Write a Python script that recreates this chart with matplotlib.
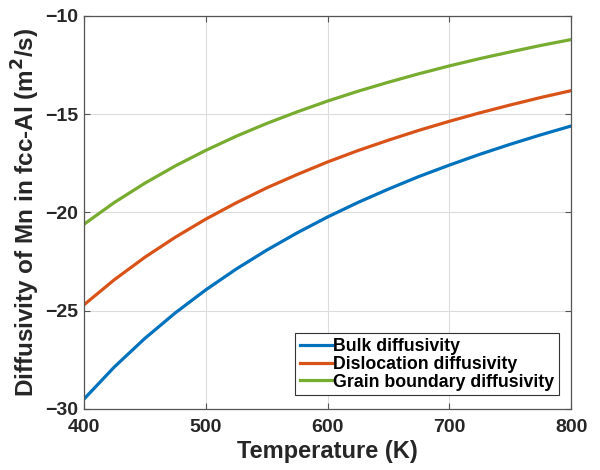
import matplotlib
matplotlib.use("Agg")
import matplotlib.pyplot as plt

temperature = [400, 425, 450, 475, 500, 525, 550, 575, 600, 625, 650, 675, 700, 725, 750, 775, 800]
bulk = [-29.50, -27.86, -26.41, -25.11, -23.94, -22.88, -21.92, -21.04, -20.23, -19.49,
        -18.81, -18.17, -17.59, -17.04, -16.53, -16.05, -15.60]
dislocation = [-24.70, -23.42, -22.28, -21.26, -20.34, -19.51, -18.75, -18.07, -17.43, -16.85,
               -16.32, -15.82, -15.36, -14.93, -14.53, -14.15, -13.80]
grain_boundary = [-20.60, -19.49, -18.51, -17.63, -16.84, -16.12, -15.47, -14.88, -14.33, -13.83,
                  -13.37, -12.94, -12.54, -12.17, -11.83, -11.50, -11.20]
series_labels = ["Bulk diffusivity", "Dislocation diffusivity", "Grain boundary diffusivity"]
x_ticks = [400, 500, 600, 700, 800]
y_ticks = [-30, -25, -20, -15, -10]

plt.rcParams['font.family'] = ['Liberation Sans', 'DejaVu Sans']
plt.rcParams['font.weight'] = 'bold'

fig = plt.figure(figsize=(6, 4.7), dpi=100)
ax = fig.add_axes([0.14, 0.13, 0.812, 0.836])

colors = ["#0072BD", "#D95319", "#77AC30"]
for ys, lab, c in zip([bulk, dislocation, grain_boundary], series_labels, colors):
    ax.plot(temperature, ys, color=c, lw=2.3, label=lab)

ax.set_xlim(400, 800)
ax.set_ylim(-30, -10)
ax.set_xticks(x_ticks)
ax.set_yticks(y_ticks)
ax.grid(True, color="#dcdcdc", lw=0.8)
ax.set_axisbelow(True)
ax.tick_params(direction='in', length=4, width=0.8, color="#555555", labelsize=14,
               top=True, right=True)
ax.tick_params(axis='x', pad=7)
ax.tick_params(axis='y', pad=4)
for lab in ax.get_xticklabels() + ax.get_yticklabels():
    lab.set_fontweight('bold')
    lab.set_color("#262626")
for s in ax.spines.values():
    s.set_color("#555555")
    s.set_linewidth(0.9)

ax.set_xlabel("Temperature (K)", fontsize=17, fontweight='bold', labelpad=3.5, color="#262626")
ax.set_ylabel("Diffusivity of Mn in fcc-Al (m$^{\\mathbf{2}}$/s)", fontsize=17.5, fontweight='bold',
              labelpad=2.5, color="#262626")

leg = ax.legend(loc='lower right', bbox_to_anchor=(0.975, 0.035), fontsize=12.8, handlelength=1.8,
                handletextpad=0.1, borderpad=0.25, labelspacing=0.05, fancybox=False, framealpha=1,
                borderaxespad=0)
leg.get_frame().set_edgecolor("#333333")
leg.get_frame().set_linewidth(0.8)
for t in leg.get_texts():
    t.set_fontweight('bold')

fig.savefig("out.png", dpi=100)
